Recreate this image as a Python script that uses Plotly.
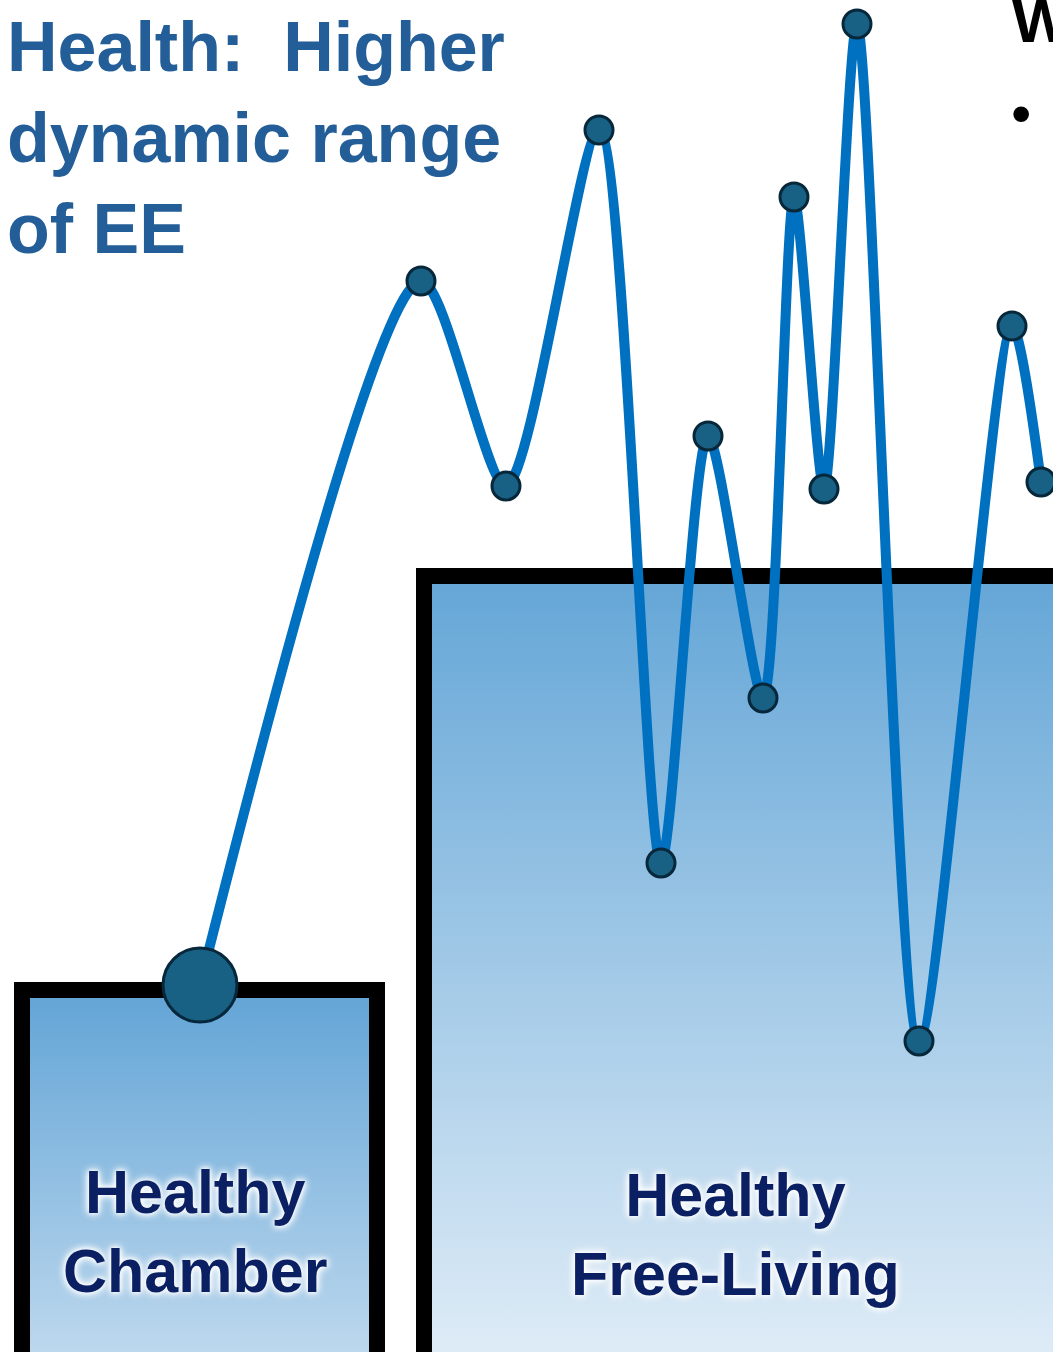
import plotly.graph_objects as go

# ---- data ----
# energy-expenditure trace (x position, EE level measured from bottom)
ee_x = [200, 421, 506, 599, 661, 708, 763, 794, 824, 857, 919, 1012, 1041]
ee_y = [367, 1071, 866, 1222, 489, 916, 654, 1155, 863, 1328, 311, 1026, 870]
marker_sizes = [74, 28, 28, 28, 28, 28, 28, 28, 28, 28, 28, 28, 28]

# setting bars (left edge, right edge, top level)
bar_names = ["Healthy<br>Chamber", "Healthy<br>Free-Living"]
bar_left = [22, 424]
bar_right = [377, 1080]
bar_top = [362, 776]
bar_bottom = -40
bar_label_x = [195, 735]
bar_label_y = [121, 118]
bar_colorscales = [
    [[0, "#c6ddf0"], [1, "#62a4d6"]],
    [[0, "#e4eff8"], [1, "#64a6d7"]],
]

title_text = "Health:  Higher<br>dynamic range<br>of EE"

fig = go.Figure()

for i in range(len(bar_names)):
    xs = [bar_left[i], bar_left[i], bar_right[i], bar_right[i], bar_left[i]]
    ys = [bar_bottom, bar_top[i], bar_top[i], bar_bottom, bar_bottom]
    fig.add_trace(go.Scatter(
        x=xs, y=ys, mode="lines", fill="toself",
        fillgradient=dict(type="vertical", colorscale=bar_colorscales[i]),
        line=dict(color="black", width=16),
        hoverinfo="skip", showlegend=False,
    ))
    fig.add_annotation(
        x=bar_label_x[i], y=bar_label_y[i], xref="x", yref="y",
        text="<b>" + bar_names[i] + "</b>", showarrow=False,
        font=dict(family="Liberation Sans", size=61, color="#0b1f63",
                  shadow="0 0 4px white, 0 0 8px white, 0 0 10px white"),
        align="center", xanchor="center", yanchor="middle",
    )

fig.add_trace(go.Scatter(
    x=ee_x, y=ee_y, mode="lines",
    line=dict(color="#0070c0", width=10, shape="spline", smoothing=0.75),
    hoverinfo="skip", showlegend=False,
))
fig.add_trace(go.Scatter(
    x=ee_x, y=ee_y, mode="markers",
    marker=dict(color="#186185", size=marker_sizes, opacity=1,
                line=dict(color="#07273a", width=3)),
    hoverinfo="skip", showlegend=False,
))

fig.add_annotation(
    x=5, y=1352 - 6, xref="x", yref="y", text="<b>" + title_text + "</b>",
    showarrow=False, align="left", xanchor="left", yanchor="top",
    font=dict(family="Liberation Sans", size=70, color="#245e98"),
)
fig.add_annotation(
    x=1010, y=1.012, xref="x", yref="paper", text="<b>W</b>",
    showarrow=False, xanchor="left", yanchor="top",
    font=dict(family="Liberation Sans", size=62, color="black"),
)
fig.add_annotation(
    x=1021, y=1352 - 112, xref="x", yref="y", text="•",
    showarrow=False, xanchor="center", yanchor="middle",
    font=dict(family="Liberation Sans", size=58, color="black"),
)

fig.update_layout(
    width=1053, height=1352,
    margin=dict(l=0, r=0, t=0, b=0),
    paper_bgcolor="white", plot_bgcolor="white",
    xaxis=dict(range=[0, 1053], visible=False, fixedrange=True),
    yaxis=dict(range=[0, 1352], visible=False, fixedrange=True),
    showlegend=False,
)

fig.write_html(
    "out.html",
    config={"displayModeBar": False},
    post_script="document.body.style.margin='0px';document.body.style.overflow='hidden';",
)
